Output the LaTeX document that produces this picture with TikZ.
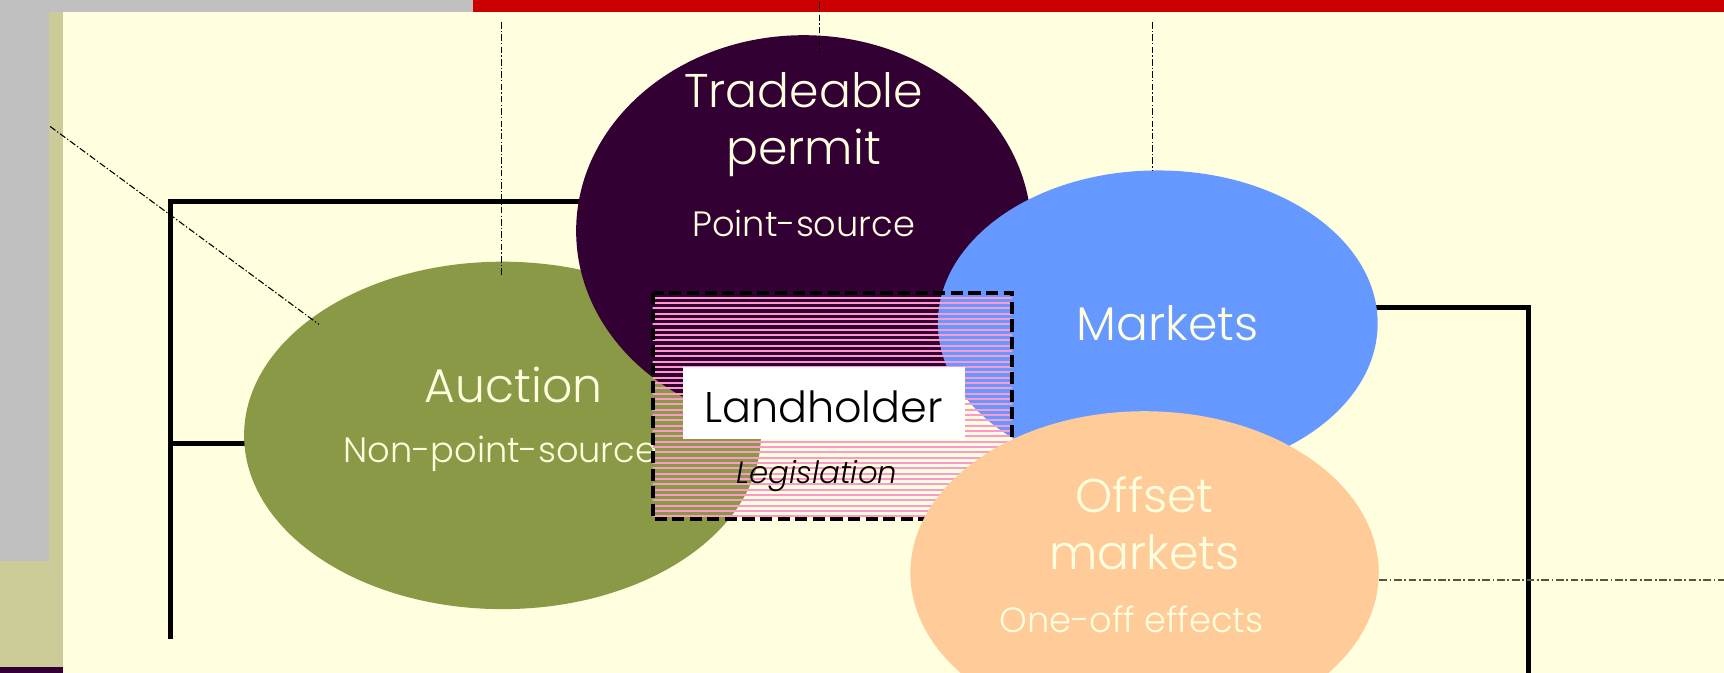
\documentclass[tikz,border=0pt]{standalone}
\usepackage{fontspec}
\setmainfont{Poppins}[UprightFont={* Light}, ItalicFont={* Light Italic}]
\usetikzlibrary{shapes.geometric}
\pgfdeclarelayer{bg}
\pgfdeclarelayer{wires}
\pgfsetlayers{bg,wires,main}

\definecolor{cream}{HTML}{FFFFE0}
\definecolor{greybar}{HTML}{C0C0C0}
\definecolor{beige}{HTML}{CCCC99}
\definecolor{redbar}{HTML}{CC0000}
\definecolor{plum}{HTML}{330033}
\definecolor{olive}{HTML}{8A9945}
\definecolor{sky}{HTML}{6699FF}
\definecolor{peach}{HTML}{FFCC99}
\definecolor{rose}{HTML}{FF99CC}
\definecolor{dashgrey}{HTML}{555544}

\tikzset{
  blob/.style={ellipse, inner sep=0pt, draw=none},
  bigtxt/.style={text=cream, inner sep=0pt, anchor=base, font=\fontsize{21.5}{24}\selectfont},
  smalltxt/.style={text=cream, inner sep=0pt, anchor=base, font=\fontsize{16}{18}\selectfont},
  bracket/.style={line width=2.3pt, black},
  guide/.style={line width=0.5pt, black, dash pattern=on 3pt off 1pt on 0.6pt off 1pt},
  guidegrey/.style={line width=0.6pt, dashgrey, dash pattern=on 3.5pt off 1.2pt on 0.8pt off 1.2pt},
  hatch/.style={rose, line width=0.85pt},
}

\begin{document}
\begin{tikzpicture}[x=0.5pt, y=-0.5pt]
\useasboundingbox (0,0) rectangle (1568,612);

% slide background and frame strips
\begin{pgfonlayer}{bg}
  \fill[cream] (0,0) rectangle (1568,612);
  \fill[greybar] (0,0) rectangle (45,510);
  \fill[greybar] (0,0) rectangle (430,10.5);
  \fill[redbar] (430,0) rectangle (1568,10.5);
  \fill[beige] (45,10.5) rectangle (57,612);
  \fill[beige] (0,510) rectangle (57,607);
  \fill[plum] (0,607) rectangle (57,612);
\end{pgfonlayer}

% Auction
\node[blob, fill=olive, minimum width=235pt, minimum height=158pt] (auction) at (457,396) {};
\node[bigtxt] (auctiontxt) at (467,366) {Auction};
\node[smalltxt] (nps) at (455,421) {Non-point-source};

% Tradeable permit
\node[blob, fill=plum, minimum width=207pt, minimum height=178pt] (trade) at (731,210) {};
\node[bigtxt] (tradetxt) at (731,98) {Tradeable};
\node[bigtxt] (permittxt) at (731,150) {permit};
\node[smalltxt] (ps) at (731,215) {Point-source};

% Markets
\node[blob, fill=sky, minimum width=200pt, minimum height=139pt] (markets) at (1053,294) {};
\node[bigtxt] (marketstxt) at (1062,310) {Markets};

% hatched landholder zone
\node[rectangle, inner sep=0pt, minimum width=163pt, minimum height=102.75pt] (zone) at (757,369.25) {};
\begin{scope}
  \clip (zone.south west) rectangle (zone.north east);
  \foreach \i in {0,...,41}
    \draw[hatch] (590,270.7+4.85*\i) -- (925,270.7+4.85*\i);
\end{scope}
\draw[line width=1.8pt, dash pattern=on 5.5pt off 2.5pt] (zone.north west) rectangle (zone.south east);

\node[rectangle, fill=white, inner sep=0pt, minimum width=128.5pt, minimum height=32.5pt] (holder) at (749.5,366.5) {};
\node[inner sep=0pt, anchor=base, font=\fontsize{19.5}{24}\selectfont] (holdertxt) at (749,384) {Landholder};
\node[inner sep=0pt, anchor=base, font=\fontsize{14}{16}\selectfont\itshape] (legis) at (743,440) {Legislation};

% Offset markets
\node[blob, fill=peach, minimum width=213pt, minimum height=147pt] (offset) at (1041,521) {};
\node[bigtxt] (offsettxt) at (1041,466) {Offset};
\node[bigtxt] (omtxt) at (1041,518) {markets};
\node[smalltxt] (oneoff) at (1029,575) {One-off effects};

% solid brackets behind the ellipses
\coordinate (lfoot) at (155,581);
\coordinate (rfoot) at (1390,612);
\begin{pgfonlayer}{wires}
  \draw[bracket] (lfoot) |- ([yshift=13.5pt]trade.center);
  \draw[bracket] ([yshift=-3.5pt]auction.center) -- ([yshift=-3.5pt]auction.center -| lfoot);
  \draw[bracket] ([yshift=7pt]markets.center) -| (rfoot);
\end{pgfonlayer}

% dash-dot guide lines
\coordinate (g1a) at (45.6,115);
\coordinate (g1b) at (290,295);
\coordinate (g2a) at (456,20);
\coordinate (g2b) at (456,250);
\coordinate (g3a) at (745,2);
\coordinate (g3b) at (745,48);
\coordinate (g4a) at (1048,20);
\coordinate (g5b) at (1568,527.5);
\draw[guide] (g1a) -- (g1b);
\draw[guide] (g2a) -- (g2b);
\draw[guide] (g3a) -- (g3b);
\draw[guide] (g4a) -- (g4a |- markets.north);
\draw[guidegrey] ([yshift=-3.25pt]offset.east) -- (g5b);
\end{tikzpicture}
\end{document}
